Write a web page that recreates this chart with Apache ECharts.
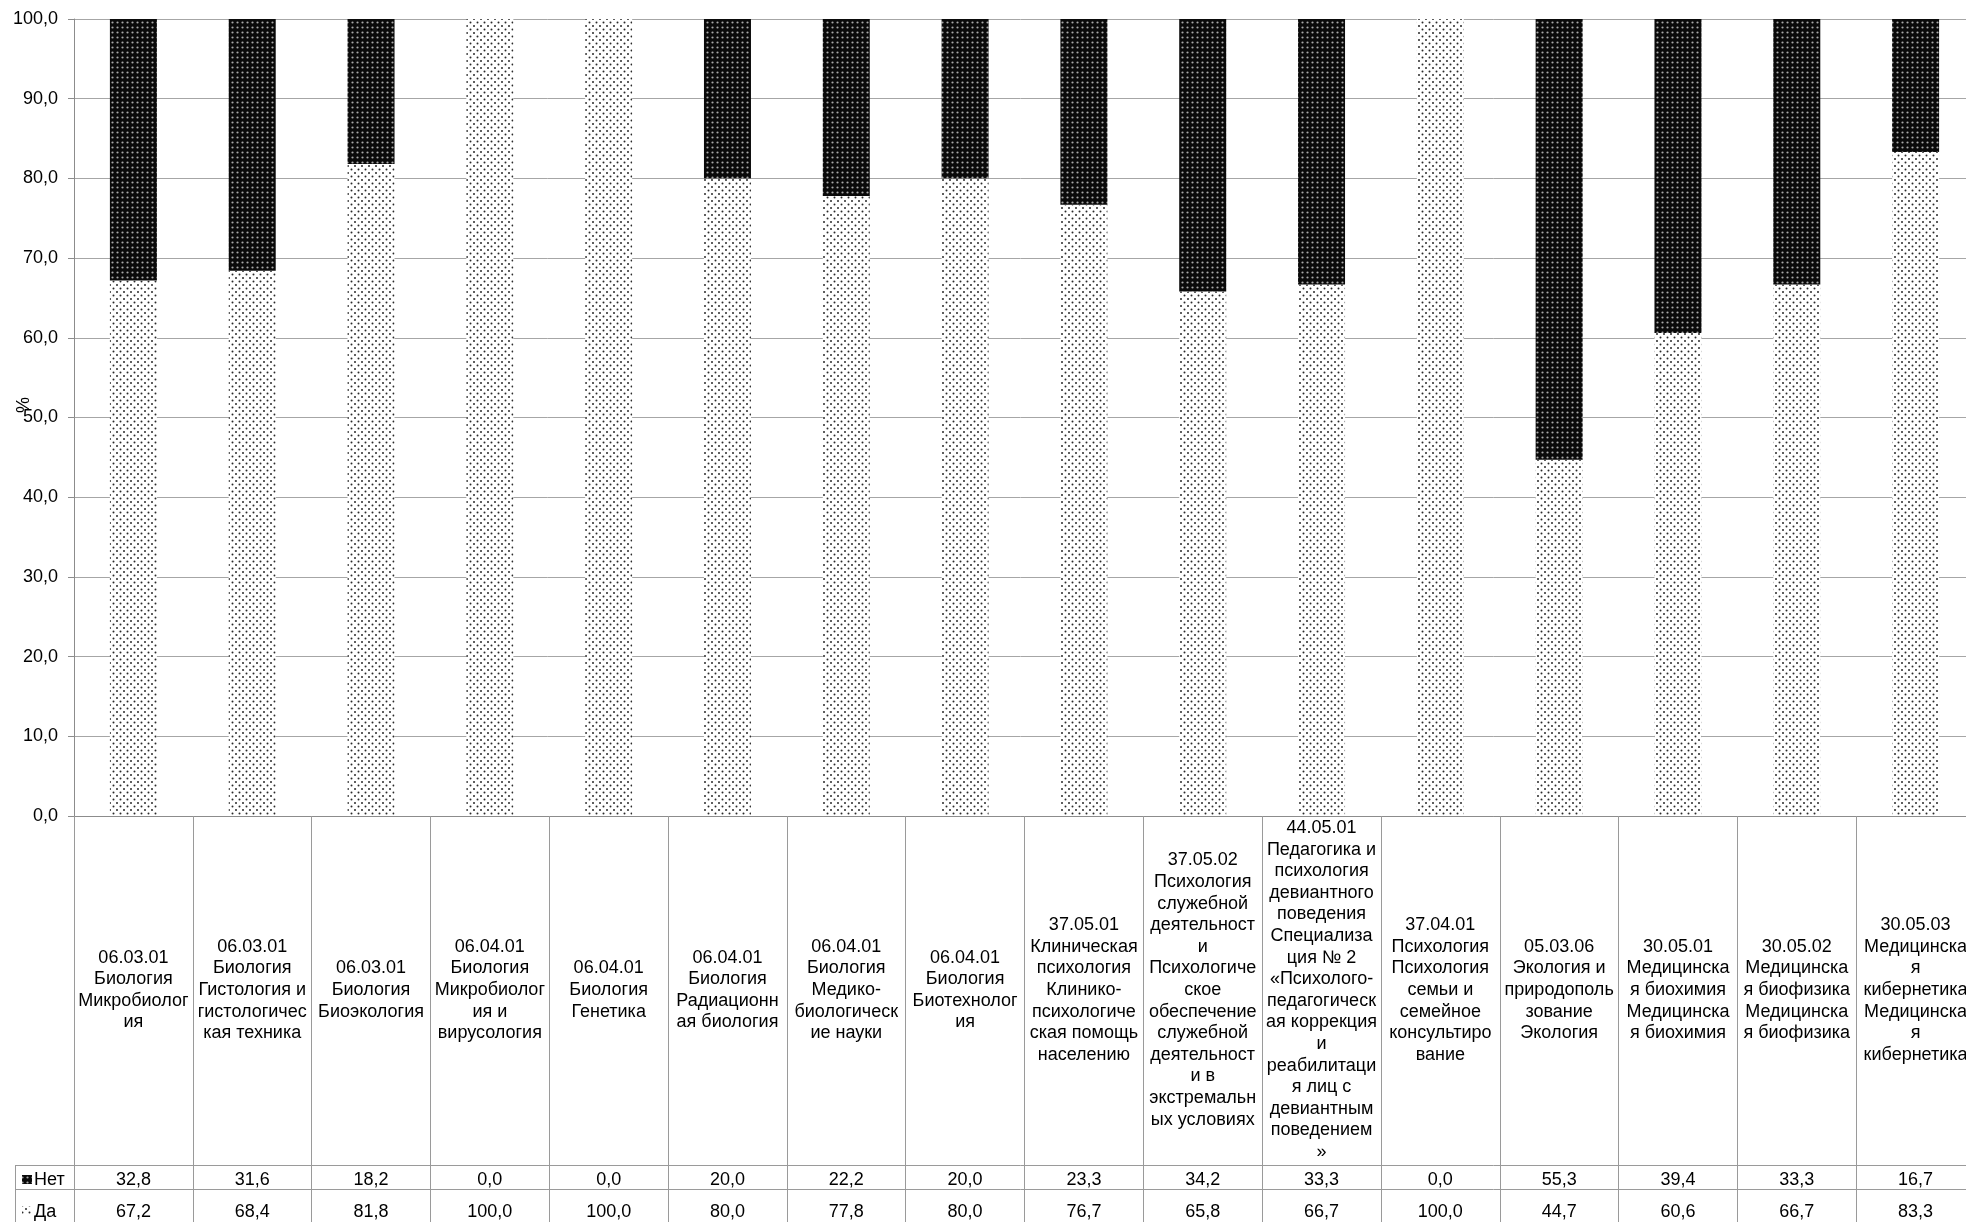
<!DOCTYPE html>
<html>
<head>
<meta charset="utf-8">
<script src="https://cdn.jsdelivr.net/npm/echarts@6/dist/echarts.min.js"></script>
<style>
html,body{margin:0;padding:0;background:#fff;}
#chart{width:1966px;height:1222px;}
</style>
</head>
<body>
<div id="chart"></div>
<script>
const categories = [
  "06.03.01\nБиология\nМикробиолог\nия",
  "06.03.01\nБиология\nГистология и\nгистологичес\nкая техника",
  "06.03.01\nБиология\nБиоэкология",
  "06.04.01\nБиология\nМикробиолог\nия и\nвирусология",
  "06.04.01\nБиология\nГенетика",
  "06.04.01\nБиология\nРадиационн\nая биология",
  "06.04.01\nБиология\nМедико-\nбиологическ\nие науки",
  "06.04.01\nБиология\nБиотехнолог\nия",
  "37.05.01\nКлиническая\nпсихология\nКлинико-\nпсихологиче\nская помощь\nнаселению",
  "37.05.02\nПсихология\nслужебной\nдеятельност\nи\nПсихологиче\nское\nобеспечение\nслужебной\nдеятельност\nи в\nэкстремальн\nых условиях",
  "44.05.01\nПедагогика и\nпсихология\nдевиантного\nповедения\nСпециализа\nция № 2\n«Психолого-\nпедагогическ\nая коррекция\nи\nреабилитаци\nя лиц с\nдевиантным\nповедением\n»",
  "37.04.01\nПсихология\nПсихология\nсемьи и\nсемейное\nконсультиро\nвание",
  "05.03.06\nЭкология и\nприродополь\nзование\nЭкология",
  "30.05.01\nМедицинска\nя биохимия\nМедицинска\nя биохимия",
  "30.05.02\nМедицинска\nя биофизика\nМедицинска\nя биофизика",
  "30.05.03\nМедицинска\nя\nкибернетика\nМедицинска\nя\nкибернетика"
];
const netValues = [32.8, 31.6, 18.2, 0.0, 0.0, 20.0, 22.2, 20.0, 23.3, 34.2, 33.3, 0.0, 55.3, 39.4, 33.3, 16.7];
const daValues  = [67.2, 68.4, 81.8, 100.0, 100.0, 80.0, 77.8, 80.0, 76.7, 65.8, 66.7, 100.0, 44.7, 60.6, 66.7, 83.3];
const seriesNames = ["Нет", "Да"];
const yMin = 0, yMax = 100, yStep = 10;

const FONT = '"Liberation Sans", Arial, sans-serif';
const GRAY = '#8c8c8c';
const fmt = v => v.toFixed(1).replace('.', ',');

function makePattern(dark) {
  const c = document.createElement('canvas');
  if (dark) {
    c.width = 5; c.height = 5;
    const g = c.getContext('2d');
    g.fillStyle = '#0a0a0a'; g.fillRect(0, 0, 5, 5);
    g.fillStyle = '#a8a8a8';
    g.beginPath(); g.arc(2.5, 2.5, 1.1, 0, Math.PI * 2); g.fill();
  } else {
    c.width = 7; c.height = 7;
    const g = c.getContext('2d');
    g.fillStyle = '#ffffff'; g.fillRect(0, 0, 7, 7);
    g.fillStyle = '#2a2a2a';
    g.beginPath(); g.arc(1.5, 1.5, 1.0, 0, Math.PI * 2); g.fill();
    g.beginPath(); g.arc(5.0, 5.0, 1.0, 0, Math.PI * 2); g.fill();
  }
  return c;
}
const darkPat = makePattern(true);
const lightPat = makePattern(false);

const chart = echarts.init(document.getElementById('chart'), null, {renderer: 'canvas'});

const option = {
  animation: false,
  backgroundColor: '#ffffff',
  textStyle: {fontFamily: FONT},
  grid: {left: 74, top: 19, width: 1901, height: 797, containLabel: false, outerBoundsMode: 'none'},
  yAxis: {
    type: 'value', min: yMin, max: yMax, interval: yStep,
    axisLine: {show: true, lineStyle: {color: GRAY, width: 1}},
    axisTick: {show: true, length: 6, lineStyle: {color: GRAY}},
    splitLine: {show: true, lineStyle: {color: '#a6a6a6', width: 1}},
    axisLabel: {fontSize: 18, color: '#000', fontFamily: FONT, margin: 16, formatter: v => fmt(v)}
  },
  xAxis: [
    {
      type: 'category', data: categories, position: 'bottom',
      axisLine: {show: true, lineStyle: {color: GRAY}},
      axisTick: {show: true, length: 410, interval: 0, lineStyle: {color: '#9a9a9a'}},
      axisLabel: {interval: 0, fontSize: 18, lineHeight: 21.6, color: '#000', fontFamily: FONT,
                  margin: 174, verticalAlign: 'middle', align: 'center'}
    },
    {
      type: 'category', data: categories, position: 'bottom', offset: 349,
      axisLine: {show: true, lineStyle: {color: '#9a9a9a'}},
      axisTick: {show: false},
      axisLabel: {interval: 0, fontSize: 18, color: '#000', fontFamily: FONT, margin: 15,
                  verticalAlign: 'middle', formatter: (v, i) => fmt(netValues[i])}
    },
    {
      type: 'category', data: categories, position: 'bottom', offset: 373,
      axisLine: {show: true, lineStyle: {color: '#9a9a9a'}},
      axisTick: {show: false},
      axisLabel: {interval: 0, fontSize: 18, color: '#000', fontFamily: FONT, margin: 23,
                  verticalAlign: 'middle', formatter: (v, i) => fmt(daValues[i])}
    }
  ],
  series: [
    {
      name: seriesNames[1], type: 'bar', stack: 'total', xAxisIndex: 0, barWidth: 47,
      data: daValues,
      itemStyle: {color: {image: lightPat, repeat: 'repeat'}}
    },
    {
      name: seriesNames[0], type: 'bar', stack: 'total', xAxisIndex: 0, barWidth: 47,
      data: netValues,
      itemStyle: {color: {image: darkPat, repeat: 'repeat'}}
    }
  ],
  graphic: [
    {type: 'text', x: 21, y: 405, rotation: -Math.PI / 2,
     style: {text: '%', font: '18px ' + FONT, fill: '#000', align: 'center', verticalAlign: 'middle'}},
    {type: 'line', shape: {x1: 15, y1: 1165.5, x2: 74, y2: 1165.5}, style: {stroke: '#9a9a9a', lineWidth: 1}},
    {type: 'line', shape: {x1: 15, y1: 1189.5, x2: 74, y2: 1189.5}, style: {stroke: '#9a9a9a', lineWidth: 1}},
    {type: 'line', shape: {x1: 15.5, y1: 1165, x2: 15.5, y2: 1222}, style: {stroke: '#9a9a9a', lineWidth: 1}},
    {type: 'rect', shape: {x: 22, y: 1175, width: 10, height: 9}, style: {fill: {image: darkPat, repeat: 'repeat'}}},
    {type: 'rect', shape: {x: 22, y: 1206, width: 10, height: 9}, style: {fill: {image: lightPat, repeat: 'repeat'}}},
    {type: 'text', x: 34, y: 1180, style: {text: seriesNames[0], font: '18px ' + FONT, fill: '#000', verticalAlign: 'middle'}},
    {type: 'text', x: 34, y: 1212, style: {text: seriesNames[1], font: '18px ' + FONT, fill: '#000', verticalAlign: 'middle'}}
  ]
};
chart.setOption(option);
</script>
</body>
</html>
